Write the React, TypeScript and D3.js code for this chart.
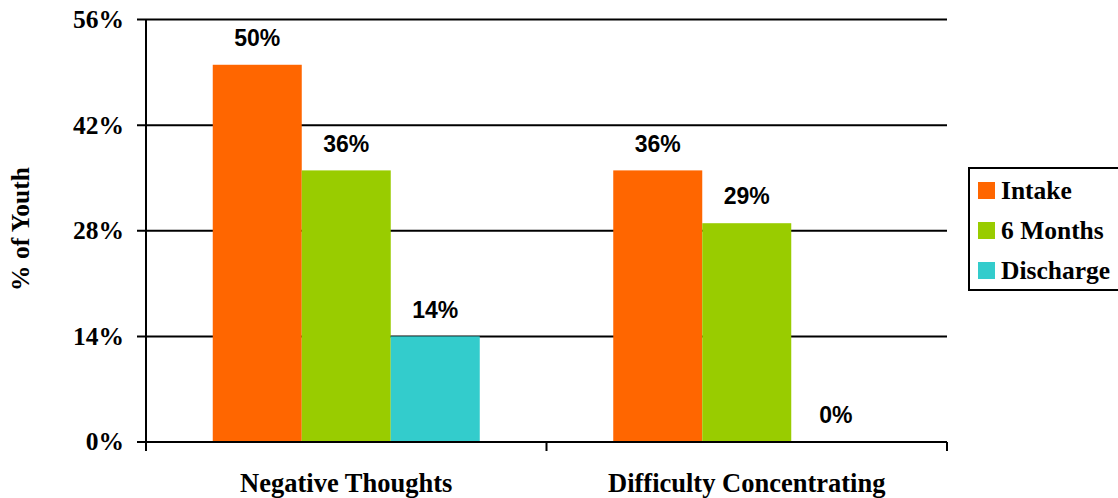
import React from "react";
import * as d3 from "d3";

const categories = ["Negative Thoughts", "Difficulty Concentrating"];
const seriesNames = ["Intake", "6 Months", "Discharge"];
const intake = [50, 36];
const sixMonths = [36, 29];
const discharge = [14, 0];
const yTicks = [0, 14, 28, 42, 56];
const colors = ["#FF6600", "#99CC00", "#33CCCC"];

export default function App() {
  const W = 1118, H = 498;
  const left = 146, right = 947, top = 19.5, bottom = 442;
  const x = d3.scaleBand<string>().domain(categories).range([left, right]).paddingInner(0).paddingOuter(0);
  const inner = d3.scaleBand<string>().domain(seriesNames).range([0, x.bandwidth()]).paddingInner(0).paddingOuter(0.75);
  const y = d3.scaleLinear().domain([0, 56]).range([bottom, top]);
  const series = [intake, sixMonths, discharge];
  const serif = "'Liberation Serif', 'Times New Roman', serif";
  const sans = "'Liberation Sans', Arial, sans-serif";
  return (
    <svg width={W} height={H} style={{ position: "absolute", left: 0, top: 0, background: "#fff" }}>
      {yTicks.map((t) => (
        <g key={t}>
          <line x1={137} x2={right} y1={y(t)} y2={y(t)} stroke="#000" strokeWidth={2} />
          <text x={124} y={y(t)} dy="0.33em" textAnchor="end" fontFamily={serif} fontWeight="bold" fontSize={25.5}>{t}%</text>
        </g>
      ))}
      {series.map((vals, si) =>
        categories.map((c, ci) => {
          const bx = (x(c) as number) + (inner(seriesNames[si]) as number);
          const v = vals[ci];
          return (
            <g key={si + "-" + ci}>
              {v > 0 && <rect x={bx} y={y(v)} width={inner.bandwidth()} height={bottom - y(v)} fill={colors[si]} />}
              <text x={bx + inner.bandwidth() / 2} y={y(v) - 27} dy="0.36em" textAnchor="middle" fontFamily={sans} fontWeight="bold" fontSize={23}>{v}%</text>
            </g>
          );
        })
      )}
      <line x1={left} x2={left} y1={top} y2={451} stroke="#000" strokeWidth={2} />
      <line x1={left} x2={right} y1={bottom} y2={bottom} stroke="#000" strokeWidth={2} />
      {[left, left + x.step(), right].map((tx, i) => (
        <line key={i} x1={tx} x2={tx} y1={bottom} y2={451} stroke="#000" strokeWidth={2} />
      ))}
      {categories.map((c) => (
        <text key={c} x={(x(c) as number) + x.bandwidth() / 2} y={492} textAnchor="middle" fontFamily={serif} fontWeight="bold" fontSize={26.5}>{c}</text>
      ))}
      <text transform={`translate(21,${229}) rotate(-90)`} textAnchor="middle" dy="0.33em" fontFamily={serif} fontWeight="bold" fontSize={25.5}>% of Youth</text>
      <rect x={969} y={168} width={160} height={122} fill="#fff" stroke="#000" strokeWidth={2} />
      {seriesNames.map((s, i) => (
        <g key={s}>
          <rect x={978} y={182 + i * 40} width={17} height={17} fill={colors[i]} />
          <text x={1001} y={191 + i * 40} dy="0.33em" fontFamily={serif} fontWeight="bold" fontSize={25.5}>{s}</text>
        </g>
      ))}
    </svg>
  );
}
